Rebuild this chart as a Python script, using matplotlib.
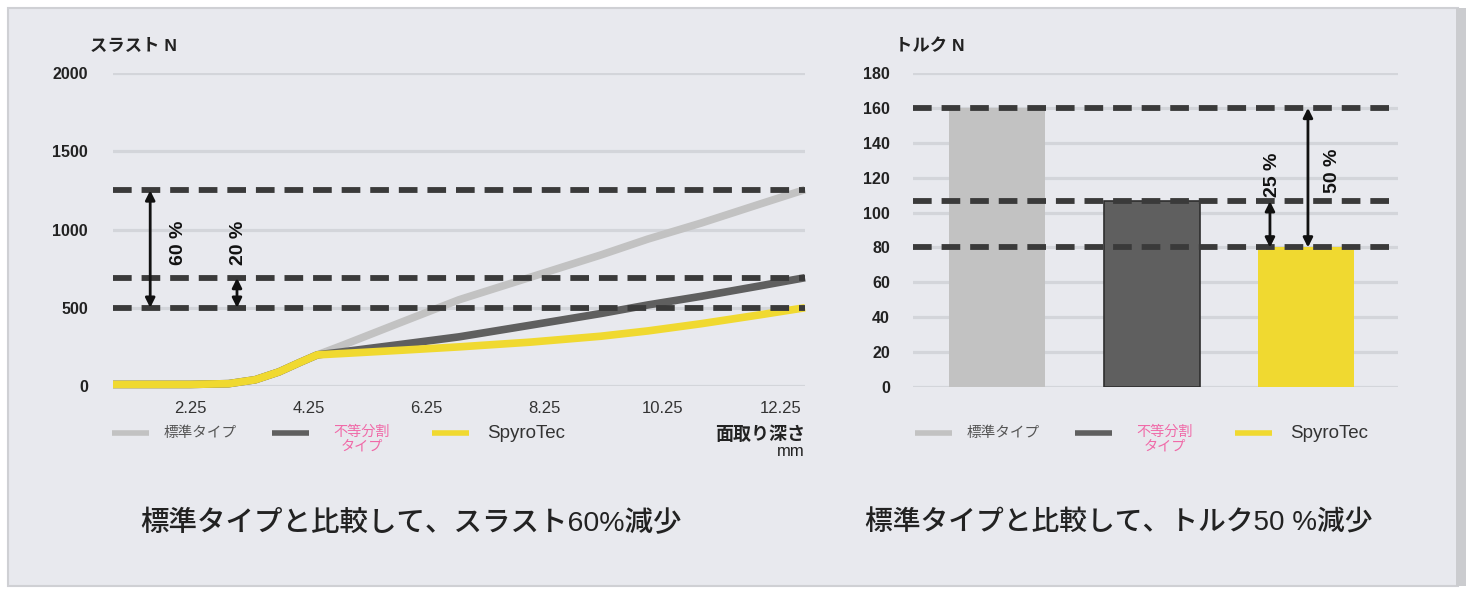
import numpy as np
import matplotlib.pyplot as plt
from matplotlib.lines import Line2D
from matplotlib.patches import Rectangle

plt.rcParams['font.family'] = ['Liberation Sans', 'Noto Sans CJK JP']

# --- データ ---
# スラスト (面取り深さ mm -> N)
depth = [0.94, 2.25, 2.9, 3.35, 3.75, 4.1, 4.4, 4.8, 5.8, 6.8, 8.0, 9.2, 10.0, 10.9, 11.9, 12.66]
thrust_std = [10, 10, 15, 40, 90, 150, 199, 256, 404, 551, 694, 837, 939, 1041, 1163, 1255]
thrust_uneq = [10, 10, 15, 40, 90, 150, 199, 217, 265, 314, 388, 463, 518, 573, 640, 692]
thrust_spyro = [10, 10, 15, 40, 90, 150, 199, 207, 228, 250, 280, 318, 352, 398, 455, 500]
thrust_ref = [1250, 690, 500]
x_ticks = [2.25, 4.25, 6.25, 8.25, 10.25, 12.25]

# トルク
torque_types = ['標準タイプ', '不等分割タイプ', 'SpyroTec']
torque_vals = [160, 106.5, 80]

col_light = '#c2c2c2'
col_dark = '#5f5f5f'
col_yellow = '#f0d930'
col_pink = '#f06aa8'
col_dash = '#3a3a3a'
col_grid = '#d3d5da'

W, H = 1473, 591
fig = plt.figure(figsize=(W / 100, H / 100), dpi=100)
fig.patch.set_facecolor('white')


def fx(px):
    return px / W


def fy(py):
    return 1 - py / H


# パネル背景
fig.patches.append(Rectangle((fx(8), fy(586)), fx(1450), (578) / H, transform=fig.transFigure,
                             facecolor='#e8e9ee', edgecolor='#cfd0d4', lw=1.5, zorder=-10))
fig.patches.append(Rectangle((fx(1456), fy(586)), fx(10), (578) / H, transform=fig.transFigure,
                             facecolor='#cbcccf', edgecolor='none', zorder=-10))

dash_style = (0, (3.2, 1.7))


def style_axes(ax, pad):
    ax.set_facecolor('none')
    for s in ax.spines.values():
        s.set_visible(False)
    ax.tick_params(length=0)
    ax.tick_params(axis='y', pad=pad, labelsize=11.5, labelcolor='#222222')
    for t in ax.get_yticklabels():
        t.set_fontweight('bold')
    ax.yaxis.grid(True, color=col_grid, lw=2.3)
    ax.set_axisbelow(True)


# ===== 左: スラスト =====
ax1 = fig.add_axes([fx(113), fy(386), fx(805 - 113), (386 - 73) / H])
ax1.set_xlim(0.94, 12.66)
ax1.set_ylim(0, 2000)
ax1.set_yticks([0, 500, 1000, 1500, 2000])
ax1.set_xticks(x_ticks)
ax1.set_xticklabels([str(v) for v in x_ticks])
style_axes(ax1, 18)
ax1.tick_params(axis='x', pad=11, labelsize=12, labelcolor='#333333')

ax1.plot(depth, thrust_std, color=col_light, lw=5.5, solid_capstyle='butt', zorder=3, clip_on=False)
ax1.plot(depth, thrust_uneq, color=col_dark, lw=5.5, solid_capstyle='butt', zorder=4, clip_on=False)
ax1.plot(depth, thrust_spyro, color=col_yellow, lw=5.5, solid_capstyle='butt', zorder=5, clip_on=False)

for v in thrust_ref:
    ax1.axhline(v, color=col_dash, lw=4.2, ls=dash_style, zorder=6)

arrow_kw = dict(arrowstyle='<|-|>', color='#111111', lw=2, mutation_scale=14, shrinkA=0, shrinkB=0)
ax1.annotate('', xy=(1.57, thrust_ref[0]), xytext=(1.57, thrust_ref[2]), arrowprops=arrow_kw, zorder=7)
ax1.annotate('', xy=(3.04, thrust_ref[1]), xytext=(3.04, thrust_ref[2]), arrowprops=arrow_kw, zorder=7)
ax1.text(2.05, 917, '60 %', rotation=90, ha='center', va='center', fontsize=14, fontweight='bold',
         color='#111111')
ax1.text(3.06, 917, '20 %', rotation=90, ha='center', va='center', fontsize=14, fontweight='bold',
         color='#111111')

fig.text(fx(90), fy(46), 'スラスト N', fontsize=12.5, fontweight='bold', color='#222222', va='center')

# ===== 右: トルク =====
ax2 = fig.add_axes([fx(913), fy(387), fx(1398 - 913), (387 - 73) / H])
ax2.set_xlim(-0.545, 2.595)
ax2.set_ylim(0, 180)
ax2.set_yticks(np.arange(0, 181, 20))
ax2.set_xticks([])
style_axes(ax2, 16.5)
ax2.bar(range(3), torque_vals, width=0.62, color=[col_light, col_dark, col_yellow],
        edgecolor=['none', '#2e2e2e', 'none'], lw=1.2, zorder=3)
for v in torque_vals:
    ax2.axhline(v, color=col_dash, lw=4.2, ls=dash_style, zorder=6)
ax2.annotate('', xy=(1.766, torque_vals[1]), xytext=(1.766, torque_vals[2]), arrowprops=arrow_kw, zorder=7)
ax2.annotate('', xy=(2.012, torque_vals[0]), xytext=(2.012, torque_vals[2]), arrowprops=arrow_kw, zorder=7)
ax2.text(1.78, 121.5, '25 %', rotation=90, ha='center', va='center', fontsize=14, fontweight='bold',
         color='#111111')
ax2.text(2.173, 123.8, '50 %', rotation=90, ha='center', va='center', fontsize=14, fontweight='bold',
         color='#111111')

fig.text(fx(895), fy(46), 'トルク N', fontsize=12.5, fontweight='bold', color='#222222', va='center')


# ===== 凡例 =====
def legend_row(x0):
    y = fy(433)
    segs = [(x0, col_light), (x0 + 160, col_dark), (x0 + 320, col_yellow)]
    for sx, c in segs:
        fig.add_artist(Line2D([fx(sx), fx(sx + 37)], [y, y], transform=fig.transFigure,
                              color=c, lw=4, solid_capstyle='butt'))
    fig.text(fx(x0 + 52), y, torque_types[0], fontsize=10.5, color='#555555', va='center')
    fig.text(fx(x0 + 250), y + 0.013, '不等分割\nタイプ', fontsize=10.2, color=col_pink, va='top',
             ha='center', multialignment='center', linespacing=1.0)
    fig.text(fx(x0 + 375), y, torque_types[2], fontsize=13.5, color='#333333', va='center')


legend_row(112)
legend_row(915)

fig.text(fx(805), fy(435), '面取り深さ', fontsize=13, fontweight='bold', color='#222222',
         ha='right', va='center')
fig.text(fx(805), fy(452), 'mm', fontsize=12, color='#222222', ha='right', va='center')

# ===== 下部テキスト =====
fig.text(fx(140), fy(523), '標準タイプと比較して、スラスト60%減少', fontsize=20.5, fontweight='medium',
         color='#222222', va='center')
fig.text(fx(865), fy(523), '標準タイプと比較して、トルク50 %減少', fontsize=20, fontweight='medium',
         color='#222222', va='center')

fig.savefig('out.png', dpi=100)
